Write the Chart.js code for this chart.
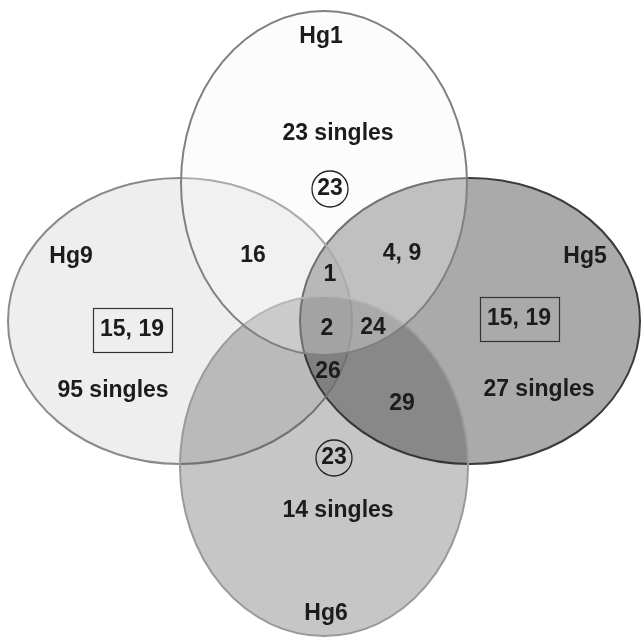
<!DOCTYPE html>
<html>
<head>
<meta charset="utf-8">
<script src="https://cdn.jsdelivr.net/npm/chart.js@4.4.0/dist/chart.umd.min.js"></script>
<style>
    html, body { margin: 0; padding: 0; background: #fff; }
    #wrap { width: 641px; height: 639px; }
</style>
</head>
<body>
<div id="wrap"><canvas id="venn" width="641" height="639"></canvas></div>
<script>
// Venn data: the four sets and what is written in them
const setNames = ['Hg5', 'Hg9', 'Hg6', 'Hg1'];
const singlesCounts = [27, 95, 14, 23];
const boxedLabels = ['15, 19', '15, 19', '', ''];
const circledLabels = ['', '', '23', '23'];
const overlapLabels = ['16', '4, 9', '1', '2', '24', '26', '29'];

// Layout in plot units (x 0..641, y 0..639 going down)
const shapes = {
    Hg5: { cx: 470, cy: 321, rx: 170, ry: 143, fill: '#aaaaaa', stroke: '#3a3a3a' },
    Hg9: { cx: 180, cy: 321, rx: 172, ry: 143, fill: 'rgba(0,0,0,0.065)', stroke: '#8a8a8a' },
    Hg6: { cx: 324, cy: 466, rx: 144, ry: 170, fill: 'rgba(50,50,50,0.28)', stroke: '#9a9a9a' },
    Hg1: { cx: 324, cy: 183, rx: 143, ry: 172, fill: 'rgba(244,244,244,0.3)', stroke: '#808080' }
};
const spots = {
    Hg5: { name: [585, 257], singles: [539, 390], box: [519, 319] },
    Hg9: { name: [71, 257], singles: [113, 391], box: [132, 330] },
    Hg6: { name: [326, 614], singles: [338, 511], circle: [334, 458] },
    Hg1: { name: [321, 37], singles: [338, 134], circle: [330, 189] }
};
const overlapSpots = [[253, 256], [402, 254], [330, 275], [327, 329], [373, 328], [328, 372], [402, 404]];

const FONT = 'bold 23px "Liberation Sans", Arial, sans-serif';

const vennPlugin = {
    id: 'venn',
    afterDatasetsDraw(chart) {
        const ctx = chart.ctx;
        const xs = chart.scales.x, ys = chart.scales.y;
        const px = v => xs.getPixelForValue(v);
        const py = v => ys.getPixelForValue(v);

        // ellipses, each filled then outlined, in stacking order
        setNames.forEach(name => {
            const s = shapes[name];
            const cx = px(s.cx), cy = py(s.cy);
            const rx = Math.abs(px(s.cx + s.rx) - cx);
            const ry = Math.abs(py(s.cy + s.ry) - cy);
            ctx.save();
            ctx.beginPath();
            ctx.ellipse(cx, cy, rx, ry, 0, 0, Math.PI * 2);
            ctx.fillStyle = s.fill;
            ctx.fill();
            ctx.lineWidth = 2;
            ctx.strokeStyle = s.stroke;
            ctx.stroke();
            ctx.restore();
        });

        ctx.save();
        ctx.font = FONT;
        ctx.fillStyle = '#1c1c1c';
        ctx.textAlign = 'center';
        ctx.textBaseline = 'middle';

        const text = (t, p) => ctx.fillText(t, px(p[0]), py(p[1]));

        setNames.forEach((name, i) => {
            const sp = spots[name];
            text(name, sp.name);
            text(singlesCounts[i] + ' singles', sp.singles);
            if (boxedLabels[i]) {
                text(boxedLabels[i], sp.box);
                const w = 79, h = 44;
                ctx.lineWidth = 1.2;
                ctx.strokeStyle = '#333';
                ctx.strokeRect(Math.round(px(sp.box[0]) - w / 2) + 0.5, Math.round(py(sp.box[1]) - h / 2) + 0.5, w, h);
            }
            if (circledLabels[i]) {
                text(circledLabels[i], sp.circle);
                ctx.beginPath();
                ctx.arc(px(sp.circle[0]), py(sp.circle[1]), 18, 0, Math.PI * 2);
                ctx.lineWidth = 1.3;
                ctx.strokeStyle = '#222';
                ctx.stroke();
            }
        });

        overlapLabels.forEach((t, i) => text(t, overlapSpots[i]));
        ctx.restore();
    }
};

new Chart(document.getElementById('venn'), {
    type: 'scatter',
    data: {
        datasets: [{
            label: 'centres',
            data: setNames.map(n => ({ x: shapes[n].cx, y: shapes[n].cy })),
            pointRadius: 0
        }]
    },
    options: {
        responsive: false,
        animation: false,
        layout: { padding: 0 },
        plugins: {
            legend: { display: false },
            tooltip: { enabled: false }
        },
        scales: {
            x: { type: 'linear', min: 0, max: 641, display: false },
            y: { type: 'linear', min: 0, max: 639, reverse: true, display: false }
        }
    },
    plugins: [vennPlugin]
});
</script>
</body>
</html>
